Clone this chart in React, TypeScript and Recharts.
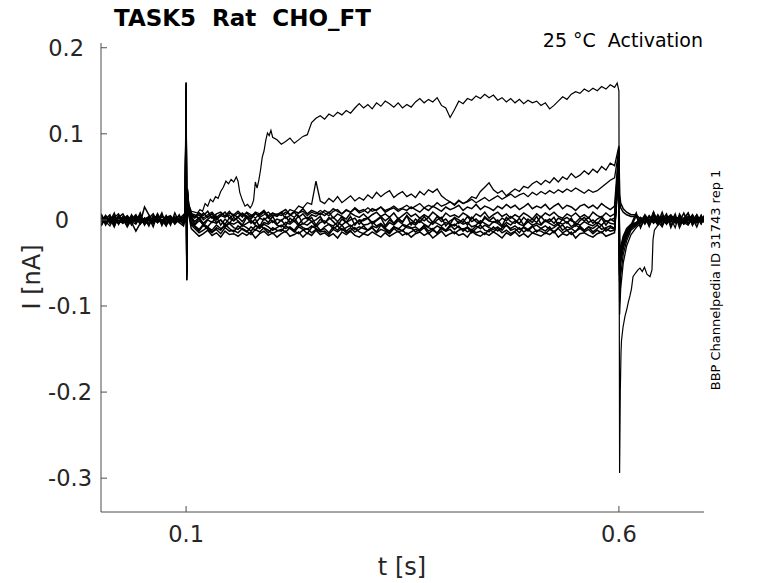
import React from "react";
import { LineChart, Line, XAxis, YAxis } from "recharts";

// sample times [s], shared by the smaller sweeps
const T = [
  0.002, 0.007, 0.012, 0.017, 0.022, 0.027, 0.032, 0.037, 0.042, 0.047,
  0.052, 0.057, 0.062, 0.067, 0.072, 0.077, 0.082, 0.087, 0.092, 0.097, 0.099,
  0.1, 0.1008, 0.1016, 0.103, 0.106,
  0.11, 0.115, 0.12, 0.125, 0.13, 0.135, 0.14, 0.145, 0.15, 0.155,
  0.16, 0.165, 0.17, 0.175, 0.18, 0.185, 0.19, 0.195, 0.2, 0.205,
  0.21, 0.215, 0.22, 0.225, 0.23, 0.235, 0.24, 0.245, 0.25, 0.255,
  0.26, 0.265, 0.27, 0.275, 0.28, 0.285, 0.29, 0.295, 0.3, 0.305,
  0.31, 0.315, 0.32, 0.325, 0.33, 0.335, 0.34, 0.345, 0.35, 0.355,
  0.36, 0.365, 0.37, 0.375, 0.38, 0.385, 0.39, 0.395, 0.4, 0.405,
  0.41, 0.415, 0.42, 0.425, 0.43, 0.435, 0.44, 0.445, 0.45, 0.455,
  0.46, 0.465, 0.47, 0.475, 0.48, 0.485, 0.49, 0.495, 0.5, 0.505,
  0.51, 0.515, 0.52, 0.525, 0.53, 0.535, 0.54, 0.545, 0.55, 0.555,
  0.56, 0.565, 0.57, 0.575, 0.58, 0.585, 0.59, 0.595,
  0.6, 0.6008, 0.602, 0.605, 0.609, 0.614,
  0.62, 0.625, 0.63, 0.635, 0.64, 0.645, 0.65, 0.655, 0.66, 0.665,
  0.67, 0.675, 0.68, 0.685, 0.69, 0.695, 0.698,
];

// largest sweep, read more densely
const TA = [
  0.002, 0.007, 0.012, 0.017, 0.022, 0.027, 0.032, 0.037, 0.042, 0.047,
  0.052, 0.057, 0.062, 0.067, 0.072, 0.077, 0.082, 0.087, 0.092, 0.097, 0.099,
  0.1, 0.1008, 0.1016, 0.103, 0.106, 0.11,
  0.113, 0.116, 0.119, 0.122, 0.125, 0.128, 0.131, 0.134, 0.137, 0.14,
  0.143, 0.146, 0.149, 0.152, 0.155, 0.158, 0.16, 0.162, 0.165, 0.168,
  0.171, 0.174, 0.176, 0.178, 0.18, 0.182, 0.184, 0.186, 0.188, 0.19,
  0.192, 0.194, 0.196, 0.198, 0.2,
  0.205, 0.21, 0.215, 0.22, 0.225, 0.23, 0.235, 0.24, 0.245, 0.25,
  0.255, 0.26, 0.265, 0.27, 0.275, 0.28, 0.285, 0.29, 0.295, 0.3,
  0.305, 0.31, 0.315, 0.32, 0.325, 0.33, 0.335, 0.34, 0.345, 0.35,
  0.355, 0.36, 0.365, 0.37, 0.375, 0.38, 0.385, 0.39, 0.395, 0.4,
  0.405, 0.41, 0.415, 0.42, 0.425, 0.43, 0.435, 0.44, 0.445, 0.45,
  0.455, 0.46, 0.465, 0.47, 0.475, 0.48, 0.485, 0.49, 0.495, 0.5,
  0.505, 0.51, 0.515, 0.52, 0.525, 0.53, 0.535, 0.54, 0.545, 0.55,
  0.555, 0.56, 0.565, 0.57, 0.575, 0.58, 0.585, 0.59, 0.595,
  0.598,
  0.6, 0.6008, 0.6016, 0.6024, 0.603, 0.6047, 0.607, 0.6093, 0.611, 0.6128,
  0.6145, 0.6163, 0.619, 0.622, 0.6243, 0.627, 0.6295, 0.6324, 0.6359, 0.6382,
  0.6394, 0.641, 0.645,
  0.65, 0.655, 0.66, 0.665, 0.67, 0.675, 0.68, 0.685, 0.69, 0.695, 0.698,
];

// currents in pA (drawn in nA)
const sweepA = [
  2, -3, 4, -1, -4, 3, 0, -2, 5, -3, 1, 4, -2, 3, -5, 1, -1, 4, -3, 2, 0,
  159, -70, 35, 18, 10, 9,
  8, 12, 10, 19, 16, 24, 21, 27, 25, 33,
  38, 45, 42, 47, 44, 50, 45, 32, 23, 16,
  18, 14, 17, 23, 44, 37, 46, 58, 73, 80,
  92, 101, 98, 104, 96,
  93, 88, 91, 95, 89, 93, 97, 99, 113, 118,
  121, 117, 123, 120, 125, 122, 127, 124, 130, 135,
  130, 134, 129, 136, 132, 138, 135, 131, 136, 130,
  134, 131, 137, 141, 136, 140, 137, 142, 133, 130,
  119, 128, 138, 135, 141, 139, 144, 141, 146, 142,
  145, 139, 142, 137, 141, 136, 140, 135, 139, 136,
  138, 133, 136, 129, 133, 138, 143, 140, 146, 149,
  147, 152, 149, 153, 150, 155, 152, 157, 154,
  159,
  150, -294, -200, -155, -140, -125, -112, -103, -95, -88,
  -80, -66, -62, -58, -56, -60, -55, -63, -66, -58,
  -23, -12, -6,
  4, -3, 5, -2, 1, -5, 3, -1, 6, -4, 2,
];

const sweepB = [
  -4, 2, -1, 5, -3, 1, 4, -2, -5, 3, 0, -3, 2, 5, -1, -4, 3, 1, -2, 4, -1,
  158, -68, 34, 17, 6,
  4, 8, 2, 6, 9, 3, 7, 5, 10, 4,
  8, 3, 9, 6, 2, 7, 10, 5, 8, 4,
  9, 6, 12, 10, 16, 14, 20, 18, 45, 22,
  19, 25, 21, 27, 20, 24, 28, 22, 26, 23,
  29, 25, 32, 27, 31, 34, 26, 30, 33, 27,
  30, 26, 33, 29, 35, 32, 36, 28, 24, 21,
  18, 23, 19, 22, 27, 25, 33, 38, 43, 35,
  31, 34, 28, 32, 36, 33, 39, 37, 42, 45,
  41, 46, 43, 49, 44, 50, 47, 54, 49, 52,
  57, 53, 59, 55, 62, 58, 66, 63,
  86, -110, -80, -50, -30, -17,
  -9, -4, 4, -8, 6, -3, 9, -5, 2, -9, 7, -1, 8, -6, 3, -5, 2,
];

const sweepC = [
  6, -2, -7, 3, 7, -4, 2, -6, 5, 0, -5, 4, -2, 7, -7, 3, 5, -4, 2, -6, 4,
  152, -62, 31, 15, 5,
  2, 6, 0, 4, 7, 1, 5, 3, 6, -1,
  4, 7, 2, 5, 8, 3, 6, 9, 4, 7,
  5, 9, 6, 3, 8, 10, 5, 9, 7, 11,
  8, 5, 10, 12, 7, 11, 9, 13, 8, 10,
  14, 10, 12, 15, 11, 13, 16, 12, 14, 17,
  13, 16, 19, 14, 17, 15, 20, 16, 18, 21,
  17, 22, 19, 21, 24, 20, 23, 26, 22, 25,
  28, 24, 27, 30, 26, 29, 31, 27, 32, 29,
  33, 30, 34, 31, 35, 32, 36, 33, 37, 34,
  31, 35, 32, 34, 38, 42, 46, 49,
  82, -95, -65, -40, -24, -12,
  -7, -2, 4, -3, 1, -6, 3, -1, 5, -4, 2, -5, 0, 4, -2, 3, -1,
];

const sweep1 = [
  1, 4, -2, 3, -4, 0, 5, -1, 2, -3, 15, 6, -2, 3, -4, 1, 4, -3, 2, -1, 3,
  160, -70, 36, 18, 8,
  3, 8, 5, 10, 2, 7, 9, 4, 8, 6,
  10, 5, 8, 3, 9, 7, 11, 4, 8, 6,
  9, 12, 6, 10, 8, 13, 7, 11, 9, 6,
  11, 8, 13, 10, 7, 12, 9, 14, 10, 12,
  8, 13, 11, 15, 9, 12, 14, 10, 13, 11,
  15, 12, 9, 14, 11, 16, 13, 10, 15, 12,
  14, 17, 11, 15, 13, 18, 12, 16, 14, 11,
  16, 13, 18, 14, 17, 12, 15, 19, 13, 16,
  14, 18, 12, 16, 19, 13, 17, 15, 11, 16,
  18, 14, 17, 13, 19, 15, 12, 16,
  84, 30, 20, 13, 9, 6,
  6, 1, -3, 5, -2, 4, -5, 2, 6, -1, 3, -4, 1, 5, -3, 2, 0,
];

const sweep2 = [
  -6, 1, 6, -7, 3, 7, -2, 5, -4, 7, -6, 2, 7, -3, 0, -7, 4, -2, 6, -5, 2,
  150, -65, 32, 16, 7,
  6, 1, 8, 3, 7, 0, 5, 9, 2, 6,
  3, 8, 4, 1, 7, 5, 9, 2, 6, 4,
  8, 2, 5, 9, 3, 7, 1, 6, 4, 8,
  5, 9, 2, 7, 4, 1, 8, 5, 3, 7,
  2, 6, 9, 4, 7, 3, 8, 1, 5, 9,
  4, 7, 2, 6, 3, 9, 5, 1, 8, 4,
  6, 3, 8, 5, 1, 7, 4, 9, 2, 6,
  9, 4, 7, 2, 6, 3, 8, 5, 1, 7,
  3, 8, 5, 9, 4, 2, 7, 4, 8, 3,
  6, 2, 9, 5, 3, 8, 4, 7,
  78, 22, 14, 9, 6, 4,
  4, -3, 6, -1, 2, -5, 3, -2, 5, 0, -4, 2, -1, 6, -3, 1, -2,
];

const sweep3 = [
  4, -2, 1, -3, 5, -1, -4, 2, 0, 3, -2, -5, 1, 4, -1, 3, -3, 0, 5, -2, -1,
  145, -60, 30, 14, 4,
  -2, 3, -4, 1, 4, -3, 0, -5, 2, -1,
  3, -2, 5, -1, -4, 2, 0, 4, -3, 1,
  -1, 4, -3, 2, -5, 1, 3, -2, 0, 4,
  -4, 1, 3, -2, 4, -3, 0, 2, -5, 1,
  2, -3, 0, 4, -1, 3, -4, 1, -2, 5,
  0, -4, 2, -1, 3, -3, 4, -2, 1, -5,
  3, 0, -3, 4, -2, 1, -4, 2, -1, 3,
  -3, 2, -1, 4, 0, -4, 3, -2, 1, -3,
  4, -2, 1, -4, 2, 0, 3, -1, -3, 2,
  -1, 3, -4, 1, 4, -2, 0, 2,
  72, -48, -32, -19, -10, -5,
  -3, 2, -5, 4, -1, 3, -6, 1, 4, -2, 5, -3, 2, -4, 0, 3, -1,
];

const sweep4 = [
  -1, 3, -4, 0, 2, -2, 4, -3, -13, -4, 2, -1, 3, -3, 5, -2, 1, -4, 2, 3, -2,
  140, -55, 28, 12, 2,
  -6, -1, -5, -8, -2, -4, 0, -7, -3, -5,
  -2, -7, -4, -1, -6, -9, -3, -5, -1, -6,
  -8, -3, -5, -1, -7, -4, -6, -2, -8, -3,
  -1, -5, -7, -3, -6, -2, -8, -4, -1, -6,
  -5, -2, -7, -4, -9, -3, -6, -1, -5, -7,
  -3, -6, -1, -5, -8, -2, -4, -7, -3, -5,
  -7, -2, -5, -3, -8, -6, -1, -4, -7, -2,
  -4, -8, -3, -6, -1, -5, -7, -2, -6, -4,
  -6, -1, -4, -7, -3, -5, -2, -8, -4, -6,
  -2, -5, -7, -3, -6, -1, -4, -5,
  70, -58, -38, -24, -14, -7,
  -4, 1, 3, -6, 2, -2, 5, -3, 0, 4, -5, 1, 3, -2, 6, -4, 2,
];

const sweep5 = [
  2, -4, 3, 1, -3, 4, -2, 0, 3, -5, 1, 3, -4, 2, -1, 4, -3, 2, -1, -4, 3,
  135, -50, 25, 10, -2,
  -7, -11, -5, -9, -12, -6, -10, -8, -4, -9,
  -11, -6, -9, -13, -7, -10, -5, -8, -12, -9,
  -6, -10, -8, -12, -5, -9, -11, -7, -10, -13,
  -8, -5, -10, -7, -12, -9, -6, -11, -8, -10,
  -12, -7, -9, -5, -10, -13, -8, -11, -6, -9,
  -10, -8, -12, -6, -9, -11, -7, -10, -13, -8,
  -5, -9, -11, -8, -12, -7, -10, -6, -9, -11,
  -8, -12, -6, -10, -7, -11, -9, -13, -8, -6,
  -10, -7, -11, -9, -5, -12, -8, -10, -6, -9,
  -12, -8, -10, -6, -11, -9, -7, -10,
  66, -62, -42, -27, -16, -8,
  -5, 3, -2, 4, -4, 1, 2, -5, 3, -1, 4, -3, -6, 2, 1, -2, 3,
];

const sweep6 = [
  -2, 5, -1, -4, 3, 1, -3, 4, -2, 1, -4, 0, 2, -3, 4, -1, -5, 3, 0, 2, -3,
  130, -45, 22, 8, -6,
  -10, -15, -12, -8, -14, -11, -16, -9, -13, -12,
  -15, -10, -13, -17, -11, -14, -9, -12, -16, -13,
  -11, -14, -9, -13, -16, -12, -10, -15, -11, -14,
  -13, -17, -11, -14, -10, -15, -12, -9, -14, -16,
  -12, -9, -15, -11, -13, -16, -10, -14, -12, -17,
  -14, -11, -13, -9, -16, -12, -15, -10, -13, -11,
  -16, -12, -10, -14, -11, -15, -13, -17, -11, -14,
  -10, -15, -12, -16, -13, -9, -14, -11, -15, -12,
  -13, -16, -11, -14, -10, -15, -12, -17, -13, -10,
  -14, -11, -16, -12, -15, -10, -13, -12,
  62, -66, -46, -30, -18, -9,
  -6, -1, 4, -3, 5, -2, 1, -4, 2, 3, -5, 0, 4, -1, -3, 5, -2,
];

const sweep7 = [
  0, -3, 2, 4, -1, -4, 3, -2, 1, 5, -2, 3, -4, 1, -2, 2, 4, -3, -1, 3, 1,
  125, -40, 20, 6, -10,
  -14, -19, -16, -12, -18, -15, -20, -13, -17, -16,
  -19, -15, -18, -14, -21, -16, -13, -18, -15, -20,
  -16, -13, -19, -17, -14, -20, -15, -18, -12, -17,
  -15, -19, -16, -21, -14, -17, -13, -18, -20, -16,
  -18, -14, -17, -20, -15, -19, -16, -13, -18, -15,
  -20, -16, -14, -18, -15, -21, -17, -13, -19, -16,
  -14, -18, -16, -20, -13, -17, -19, -15, -18, -14,
  -17, -21, -15, -18, -14, -19, -16, -20, -15, -17,
  -19, -15, -17, -13, -20, -16, -18, -14, -21, -16,
  -15, -18, -20, -16, -14, -19, -17, -15,
  58, -72, -50, -33, -20, -10,
  -5, 2, -4, 1, -3, 6, -2, 4, -6, 1, 3, -1, -4, 5, -2, 0, 4,
];

const sweep8 = [
  7, -6, 2, -8, 5, 0, -7, 6, -3, 8, -5, 3, -8, 7, -2, 5, -6, 8, -3, -7, 3,
  142, -58, 29, 13, 3,
  -5, 2, -7, 0, -3, 4, -6, 1, -4, 3,
  -1, -6, 3, -4, 1, -8, 2, -3, 4, -5,
  0, -7, 2, -2, 5, -5, -1, 3, -6, 1,
  -4, 3, -2, -7, 1, -3, 4, -6, 0, -1,
  2, -5, -1, 3, -7, 0, -4, 2, -3, 5,
  -6, 1, -3, 4, -2, -5, 0, 3, -7, -1,
  2, -4, 1, -6, 3, -2, -5, 4, -1, -3,
  0, -7, 3, -2, -4, 2, -6, 1, -3, 4,
  -5, 0, -2, 3, -6, 1, -4, 2, -7, -1,
  3, -3, 0, -5, 2, -6, 1, -2,
  71, -52, -35, -21, -12, -6,
  8, -9, 3, -5, 9, -2, -8, 5, -3, 7, -9, 2, 8, -6, 3, -2, 5,
];

const sweep9 = [
  -7, 5, -2, 8, -5, 3, -8, 1, 6, -4, 2, -7, 5, -2, 8, -6, 3, -5, 1, 6, -3,
  132, -48, 24, 9, -4,
  -8, -13, -6, -11, -15, -9, -12, -5, -10, -14,
  -7, -11, -14, -8, -12, -6, -10, -15, -9, -12,
  -13, -7, -10, -14, -8, -11, -16, -9, -6, -12,
  -10, -15, -8, -12, -6, -13, -9, -14, -11, -7,
  -12, -9, -14, -6, -11, -15, -8, -10, -13, -7,
  -9, -14, -11, -7, -13, -10, -16, -8, -12, -6,
  -11, -7, -13, -9, -15, -10, -6, -12, -14, -8,
  -13, -9, -6, -12, -10, -15, -8, -11, -7, -14,
  -10, -13, -8, -15, -9, -6, -12, -10, -14, -7,
  -12, -8, -14, -10, -6, -13, -9, -11,
  64, -64, -44, -28, -17, -8,
  5, -8, 2, -4, 9, -6, 0, 7, -9, 3, -2, 8, -5, 2, -8, 5, -3,
];

const xTicks = [0.1, 0.6];
const yTicks = [-0.3, -0.2, -0.1, 0, 0.1, 0.2];

const FONT = "DejaVu Sans, sans-serif";
const AXIS = "#4d4d4d";

const toPoints = (times: number[], pA: number[]) =>
  times.map((t, k) => ({ t, i: pA[k] / 1000 }));

const sweeps = [
  { key: "a", data: toPoints(TA, sweepA), w: 1.2 },
  { key: "b", data: toPoints(T, sweepB), w: 1.3 },
  { key: "c", data: toPoints(T, sweepC), w: 1.3 },
  { key: "s1", data: toPoints(T, sweep1), w: 1.5 },
  { key: "s2", data: toPoints(T, sweep2), w: 1.5 },
  { key: "s3", data: toPoints(T, sweep3), w: 1.5 },
  { key: "s4", data: toPoints(T, sweep4), w: 1.5 },
  { key: "s5", data: toPoints(T, sweep5), w: 1.5 },
  { key: "s6", data: toPoints(T, sweep6), w: 1.5 },
  { key: "s7", data: toPoints(T, sweep7), w: 1.5 },
  { key: "s8", data: toPoints(T, sweep8), w: 1.5 },
  { key: "s9", data: toPoints(T, sweep9), w: 1.5 },
];

const YTick = ({ x, y, payload }: any) => {
  const v = payload.value as number;
  const shift = v < 0 ? 0 : v > 0 ? 8 : 23;
  return (
    <text x={x - shift} y={y} dy={8} textAnchor="end" fontSize={22.5} fill="#262626" fontFamily={FONT}>
      {String(v)}
    </text>
  );
};

const XTick = ({ x, y, payload }: any) => (
  <text x={x} y={y} textAnchor="middle" fontSize={22.5} fill="#262626" fontFamily={FONT}>
    {String(payload.value)}
  </text>
);

export default function App() {
  return (
    <div style={{ position: "absolute", left: 0, top: 0, width: 778, height: 583, background: "#fff" }}>
      <LineChart width={778} height={583} margin={{ top: 43, right: 74, bottom: 41, left: 41 }}>
        <XAxis
          type="number"
          dataKey="t"
          domain={[0.0017, 0.6983]}
          allowDataOverflow
          ticks={xTicks}
          height={30}
          tickSize={-6}
          tickMargin={36}
          tick={<XTick />}
          axisLine={{ stroke: AXIS, strokeWidth: 1 }}
          tickLine={{ stroke: AXIS, strokeWidth: 1 }}
        />
        <YAxis
          type="number"
          domain={[-0.3393, 0.2055]}
          allowDataOverflow
          ticks={yTicks}
          width={60}
          tickSize={-6}
          tickMargin={15}
          tick={<YTick />}
          axisLine={{ stroke: AXIS, strokeWidth: 1 }}
          tickLine={{ stroke: AXIS, strokeWidth: 1 }}
        />
        {sweeps.map((s) => (
          <Line
            key={s.key}
            data={s.data}
            dataKey="i"
            type="linear"
            stroke="#000"
            strokeWidth={s.w}
            dot={false}
            activeDot={false}
            isAnimationActive={false}
          />
        ))}
      </LineChart>

      <svg width={778} height={583} style={{ position: "absolute", left: 0, top: 0, pointerEvents: "none" }}>
        <text x={114} y={26} fontSize={23} fontWeight="bold" fontFamily={FONT} fill="#000" style={{ whiteSpace: "pre" }}>
          {"TASK5  Rat  CHO_FT"}
        </text>
        <text x={703} y={47} textAnchor="end" fontSize={19} fontFamily={FONT} fill="#000" style={{ whiteSpace: "pre" }}>
          {"25 °C  Activation"}
        </text>
        <text transform="translate(720,280) rotate(-90)" textAnchor="middle" fontSize={13} fontFamily={FONT} fill="#000">
          BBP Channelpedia ID 31743 rep 1
        </text>
        <text transform="translate(39.5,277) rotate(-90)" textAnchor="middle" fontSize={24} fontFamily={FONT} fill="#262626">
          I [nA]
        </text>
        <text x={402} y={575} textAnchor="middle" fontSize={24} fontFamily={FONT} fill="#262626">
          t [s]
        </text>
      </svg>
    </div>
  );
}
